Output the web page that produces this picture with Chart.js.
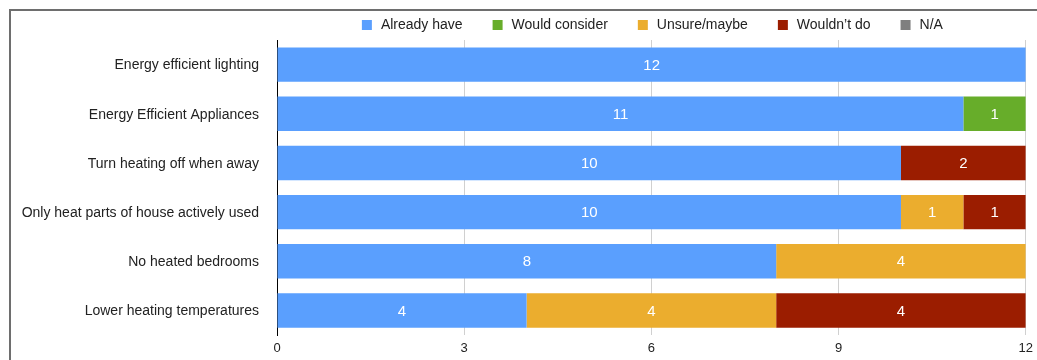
<!DOCTYPE html>
<html>
<head>
<meta charset="utf-8">
<script src="https://cdn.jsdelivr.net/npm/chart.js@4/dist/chart.umd.min.js"></script>
<style>
  html, body { margin: 0; padding: 0; background: #fff; overflow: hidden; }
  #frame { position: absolute; left: 9px; top: 9px; width: 1200px; height: 500px; border: 2px solid #6e6e6e; }
  #wrap { position: absolute; left: 0; top: 0; width: 1037px; height: 360px; }
</style>
</head>
<body>
<div id="frame"></div>
<div id="wrap"><canvas id="chart"></canvas></div>
<script>
// Categories and answers per measure
const measures = [
  "Energy efficient lighting",
  "Energy Efficient Appliances",
  "Turn heating off when away",
  "Only heat parts of house actively used",
  "No heated bedrooms",
  "Lower heating temperatures"
];
const alreadyHave   = [12, 11, 10, 10, 8, 4];
const wouldConsider = [0, 1, 0, 0, 0, 0];
const unsureMaybe   = [0, 0, 0, 1, 4, 4];
const wouldntDo     = [0, 0, 2, 1, 0, 4];
const notApplicable = [0, 0, 0, 0, 0, 0];
const xTicks = [0, 3, 6, 9, 12];

const series = [
  { label: "Already have",   data: alreadyHave,   color: "#5a9ffe" },
  { label: "Would consider", data: wouldConsider, color: "#67ad2a" },
  { label: "Unsure/maybe",   data: unsureMaybe,   color: "#ebad2e" },
  { label: "Wouldn\u2019t do", data: wouldntDo,   color: "#9b1d00" },
  { label: "N/A",            data: notApplicable, color: "#7f7f7f" }
];

const LEGEND_PAD = 28;

// white value labels in the middle of each segment
const segmentLabels = {
  id: "segmentLabels",
  afterDatasetsDraw(chart) {
    const ctx = chart.ctx;
    ctx.save();
    ctx.fillStyle = "#fff";
    ctx.font = "15px 'Liberation Sans', Arial, sans-serif";
    ctx.textAlign = "center";
    ctx.textBaseline = "middle";
    chart.data.datasets.forEach((ds, i) => {
      chart.getDatasetMeta(i).data.forEach((bar, j) => {
        const v = ds.data[j];
        if (!v) return;
        const p = bar.getProps(["x", "y", "base"], true);
        ctx.fillText(String(v), (p.x + p.base) / 2, p.y + 1);
      });
    });
    ctx.restore();
  }
};

// centre the legend over the plot and lift it into the top margin
const legendPlacement = {
  id: "legendPlacement",
  afterLayout(chart) {
    const lg = chart.legend;
    lg.left = chart.chartArea.left;
    lg.right = chart.chartArea.right;
    lg.top = 18 - LEGEND_PAD;
  }
};

Chart.defaults.font.family = "'Liberation Sans', Arial, sans-serif";
Chart.defaults.color = "#222";

new Chart(document.getElementById("chart"), {
  type: "bar",
  data: {
    labels: measures,
    datasets: series.map(s => ({
      label: s.label,
      data: s.data,
      backgroundColor: s.color,
      borderWidth: 0,
      barPercentage: 0.7,
      categoryPercentage: 1
    }))
  },
  options: {
    indexAxis: "y",
    responsive: true,
    maintainAspectRatio: false,
    animation: false,
    layout: { padding: { left: 0, right: 9, top: 0, bottom: 0 } },
    plugins: {
      legend: {
        position: "top",
        maxHeight: 40,
        labels: {
          usePointStyle: true,
          pointStyle: "rect",
          boxWidth: 14,
          boxHeight: 10,
          padding: LEGEND_PAD,
          font: { size: 14 },
          color: "#222"
        }
      },
      tooltip: { enabled: false }
    },
    scales: {
      x: {
        stacked: true,
        min: 0,
        max: 12,
        afterBuildTicks: s => { s.ticks = xTicks.map(v => ({ value: v })); },
        afterFit: s => { s.height = 25; },
        ticks: { font: { size: 13, lineHeight: 1.5 }, color: "#222", padding: 4 },
        grid: {
          color: c => c.tick && c.tick.value === 0 ? "#000" : "#d0d0d0",
          tickLength: 0
        },
        border: { display: false }
      },
      y: {
        stacked: true,
        afterFit: s => { s.width = 277; },
        ticks: { font: { size: 14 }, color: "#222", padding: 10, labelOffset: 1 },
        grid: { display: false },
        border: { display: true, color: "#000", width: 1 }
      }
    }
  },
  plugins: [segmentLabels, legendPlacement]
});
</script>
</body>
</html>
